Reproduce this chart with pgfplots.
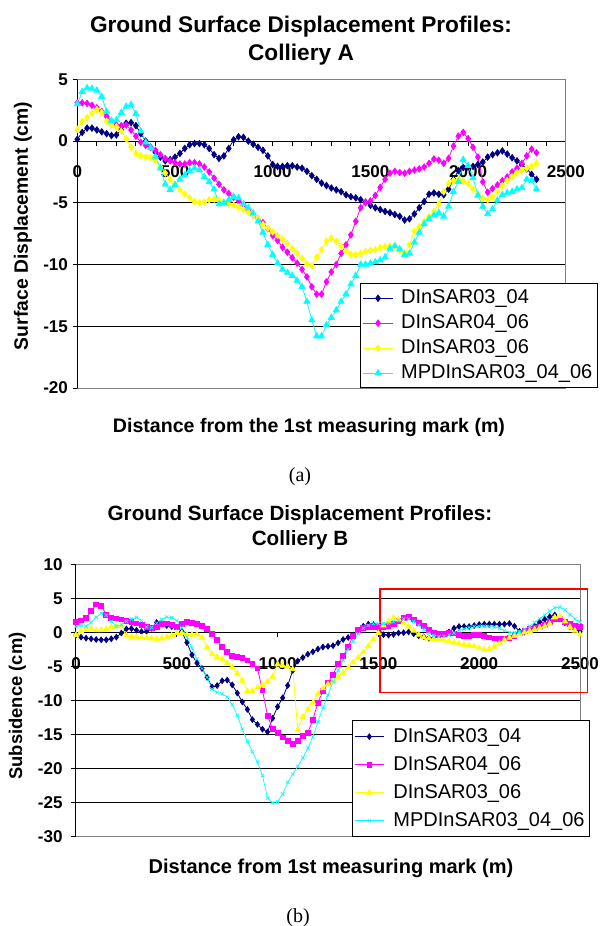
\documentclass[border=0pt]{standalone}
\usepackage{fontspec}
\setmainfont{Liberation Sans}
\newfontfamily\capfont{Liberation Serif}
\usepackage{pgfplots}
\usepackage{pgfplotstable}
\pgfplotsset{compat=1.18}

\definecolor{sNavy}{RGB}{0,0,128}
\definecolor{sMag}{RGB}{255,0,255}
\definecolor{sYel}{RGB}{255,255,0}
\definecolor{sCyan}{RGB}{0,255,255}
\definecolor{bord}{RGB}{128,128,128}

% Colliery A: distance (m) and displacement (cm)
\pgfplotstableread{
x a b c d
0 0.15 3.1 0.95 3.0
25 0.7 3.1 1.6 4.0
50 1.05 3.05 1.9 4.3
75 1.05 2.9 2.25 4.25
100 0.9 2.7 2.55 4.1
125 0.75 2.4 2.3 3.6
150 0.6 2.0 1.6 2.4
175 0.45 1.6 1.3 1.65
200 0.5 1.3 1.15 1.7
225 0.9 1.25 0.8 2.3
250 1.45 1.3 0.2 2.8
275 1.5 0.9 -0.5 2.95
300 1.25 0.4 -1.0 2.2
325 0.6 -0.1 -1.2 0.8
350 0 -0.35 -1.3 -0.1
375 -0.5 -0.5 -1.35 -0.55
400 -0.9 -0.75 -1.55 -1.25
425 -1.3 -1.1 -2.1 -2.2
450 -1.6 -1.4 -2.6 -3.5
475 -1.5 -1.6 -3.1 -3.95
500 -1.3 -1.75 -3.5 -3.55
525 -1.0 -1.85 -3.95 -3.1
550 -0.6 -1.85 -4.3 -2.75
575 -0.3 -1.75 -4.6 -2.4
600 -0.2 -1.75 -4.9 -2.2
625 -0.2 -1.85 -5.0 -2.35
650 -0.3 -2.1 -4.95 -2.9
675 -0.6 -2.5 -4.75 -3.3
700 -1.1 -3.0 -4.7 -3.9
725 -1.4 -3.5 -4.8 -5.1
750 -1.2 -3.95 -5.0 -5.0
775 -0.6 -4.25 -5.1 -4.75
800 0.1 -4.55 -5.2 -4.5
825 0.35 -4.85 -5.35 -4.6
850 0.3 -5.15 -5.55 -5.1
875 0 -5.6 -5.75 -5.4
900 -0.25 -6.0 -6.0 -5.85
925 -0.5 -6.3 -6.3 -6.5
950 -0.75 -6.6 -6.75 -7.4
975 -1.2 -7.1 -7.05 -8.4
1000 -1.9 -7.65 -7.35 -9.2
1025 -2.05 -8.05 -7.65 -9.9
1050 -2.05 -8.6 -7.95 -10.4
1075 -2.0 -9.0 -8.3 -10.65
1100 -2.0 -9.45 -8.7 -10.9
1125 -2.1 -9.9 -9.1 -11.3
1150 -2.2 -10.4 -9.5 -11.8
1175 -2.45 -11.0 -9.95 -13.0
1200 -2.8 -11.8 -10.1 -14.5
1225 -3.1 -12.4 -9.4 -15.8
1250 -3.4 -12.4 -8.8 -15.8
1275 -3.6 -11.4 -8.1 -14.9
1300 -3.8 -10.6 -7.85 -14.3
1325 -3.95 -10.0 -8.1 -13.7
1350 -4.1 -9.1 -8.5 -13.0
1375 -4.35 -8.4 -8.9 -12.4
1400 -4.5 -7.6 -9.2 -11.6
1425 -4.6 -6.5 -9.2 -10.9
1450 -4.75 -5.4 -9.1 -10.0
1475 -4.95 -5.0 -8.95 -10.0
1500 -5.2 -4.85 -8.85 -9.9
1525 -5.4 -4.4 -8.8 -9.8
1550 -5.55 -3.75 -8.65 -9.65
1575 -5.7 -3.1 -8.55 -9.4
1600 -5.8 -2.6 -8.5 -8.7
1625 -5.95 -2.45 -8.5 -8.5
1650 -6.1 -2.55 -8.9 -8.75
1675 -6.4 -2.6 -9.05 -9.2
1700 -6.3 -2.45 -8.4 -9.1
1725 -5.9 -2.35 -7.3 -8.2
1750 -5.4 -2.25 -6.95 -7.4
1775 -4.9 -2.1 -6.5 -6.7
1800 -4.3 -1.8 -6.1 -6.3
1825 -4.2 -1.45 -5.7 -6.0
1850 -4.3 -1.55 -5.1 -5.8
1875 -4.35 -1.8 -4.1 -6.1
1900 -3.9 -1.4 -3.45 -5.3
1925 -3.1 -0.4 -3.2 -4.1
1950 -2.4 0.4 -3.1 -3.3
1975 -2.15 0.7 -3.25 -1.5
2000 -2.1 0.2 -3.45 -2.0
2025 -2.05 -0.5 -3.9 -3.0
2050 -1.9 -1.3 -4.3 -4.4
2075 -1.7 -3.3 -4.65 -5.3
2100 -1.3 -4.15 -4.75 -5.9
2125 -1.1 -3.85 -4.55 -5.5
2150 -0.95 -3.55 -4.1 -4.8
2175 -0.8 -3.2 -3.6 -4.35
2200 -1.05 -2.9 -3.2 -4.2
2225 -1.35 -2.5 -2.9 -4.1
2250 -1.6 -2.2 -2.55 -3.9
2275 -1.9 -1.8 -2.35 -3.8
2300 -2.25 -1.2 -2.2 -3.1
2325 -2.7 -0.65 -2.05 -3.2
2350 -3.1 -0.95 -1.8 -3.9
}\tabA

% Colliery B: distance (m) and subsidence (cm)
\pgfplotstableread{
x a b c d
0 -0.4 1.55 -0.4 0.85
25 -0.7 1.75 0.15 1.0
50 -0.85 2.1 0.45 0.9
75 -0.95 3.1 0.55 1.45
100 -1.05 4.1 0.3 2.2
125 -1.1 3.9 0.3 2.8
150 -1.1 2.6 0.5 2.5
175 -0.95 2.15 0.8 1.6
200 -0.7 2.05 0.9 0.9
225 -0.1 1.9 0.9 1.1
250 0.5 1.7 -0.45 1.6
275 0.55 1.5 -0.65 1.95
300 0.3 1.3 -0.7 2.2
325 0.1 1.1 -0.75 1.7
350 0.15 0.85 -0.8 0.8
375 0.6 0.6 -0.9 0.7
400 1.45 0.8 -1.0 1.35
425 1.25 1.2 -0.9 1.9
450 1.0 1.3 -0.75 2.25
475 0.85 1.1 -0.45 2.15
500 0.75 0.85 -0.1 1.7
525 0.1 1.2 -0.1 0.7
550 -1.5 1.5 -0.3 -0.7
575 -3.3 1.4 -0.35 -2.3
600 -4.5 1.2 -0.3 -3.9
625 -5.3 0.9 -0.8 -5.3
650 -6.6 0.45 -2.2 -6.6
675 -8.0 -0.2 -3.2 -8.3
700 -7.8 -1.1 -3.6 -8.8
725 -7.1 -2.1 -3.95 -9.0
750 -7.0 -2.9 -4.5 -9.5
775 -7.7 -3.4 -5.1 -10.6
800 -8.9 -3.6 -6.0 -12.2
825 -10.2 -3.8 -7.1 -14.2
850 -11.3 -4.1 -8.6 -16.0
875 -12.8 -4.65 -8.6 -17.5
900 -13.5 -5.3 -8.1 -19.0
925 -14.2 -8.5 -7.7 -21.0
950 -14.6 -12.2 -7.2 -24.3
975 -12.6 -14.2 -6.5 -25.0
1000 -10.9 -14.7 -4.7 -24.8
1025 -9.6 -15.4 -4.9 -23.7
1050 -7.8 -15.9 -5.0 -22.0
1075 -5.6 -16.3 -5.4 -20.8
1100 -4.2 -15.9 -14.3 -19.7
1125 -3.7 -15.2 -12.4 -18.4
1150 -3.2 -14.7 -11.3 -17.0
1175 -2.85 -12.8 -10.3 -15.3
1200 -2.45 -10.3 -9.0 -13.1
1225 -2.15 -8.6 -8.2 -11.0
1250 -2.05 -7.4 -7.6 -9.2
1275 -1.95 -6.2 -7.2 -7.2
1300 -1.55 -4.6 -6.6 -5.6
1325 -1.05 -3.5 -5.9 -4.1
1350 -0.75 -2.1 -5.2 -2.5
1375 -0.4 -0.5 -4.4 -1.3
1400 0.2 0.35 -3.7 -0.2
1425 0.9 0.65 -2.9 0.6
1450 1.2 0.8 -2.0 1.05
1475 1.15 0.85 -1.0 1.3
1500 0.6 0.85 -0.1 1.3
1525 -0.35 0.85 1.0 1.3
1550 -0.4 0.9 1.6 1.3
1575 -0.3 1.2 2.15 1.55
1600 -0.1 1.7 1.9 1.75
1625 -0.05 2.15 1.4 2.0
1650 0.05 2.25 0.85 1.95
1675 -0.2 1.9 0.25 1.6
1700 -0.5 1.4 -0.35 1.05
1725 -0.65 0.9 -0.75 0.45
1750 -0.85 0.4 -0.9 -0.1
1775 -0.8 0.0 -0.95 -0.45
1800 -0.6 -0.2 -1.05 -0.6
1825 -0.35 -0.2 -1.15 -0.6
1850 0.05 -0.05 -1.3 -0.4
1875 0.6 -0.15 -1.5 -0.1
1900 0.85 -0.35 -1.65 0.3
1925 0.85 -0.55 -1.8 0.5
1950 0.85 -0.55 -1.9 0.7
1975 1.0 -0.4 -2.05 0.85
2000 1.15 -0.4 -2.3 0.9
2025 1.2 -0.55 -2.55 0.9
2050 1.2 -0.75 -2.45 0.85
2075 1.2 -0.9 -2.1 0.8
2100 1.2 -1.0 -1.6 0.6
2125 1.2 -1.0 -1.15 0.25
2150 1.3 -0.85 -0.8 0.0
2175 0.9 -0.55 -0.5 -0.05
2200 0.15 -0.15 -0.25 0.1
2225 0.05 0.2 0.0 0.45
2250 0.4 0.45 0.2 0.9
2275 0.9 0.65 0.4 1.45
2300 1.5 0.8 0.65 2.0
2325 1.9 1.15 0.9 2.55
2350 2.3 1.55 1.25 3.1
2375 2.55 1.9 2.2 3.6
2400 2.1 2.0 2.4 3.7
2425 1.4 1.5 1.6 3.3
2450 0.85 1.25 0.8 2.6
2475 0.45 1.0 0.25 1.95
2500 0.1 0.75 -0.3 1.5
}\tabB

\pgfplotsset{
  xlstyle/.style={
    scale only axis,
    xmin=0, xmax=2500,
    axis x line=middle, axis y line=left,
    axis line style={-, black, line width=0.75pt},
    hide obscured x ticks=false, hide obscured y ticks=false,
    tick align=outside,
    major tick length=3.5pt, minor tick length=3.5pt,
    tick style={black, line width=0.75pt},
    ymajorgrids, grid style={black, line width=0.75pt},
    xtick={0,500,...,2500},
    xticklabels={0,500,1000,1500,2000,2500},
    ticklabel style={font=\bfseries\fontsize{12.8}{14}\selectfont},
    legend cell align=left,
    legend image code/.code={\draw[mark repeat=2,mark phase=2,##1] plot coordinates {(0pt,0pt) (11pt,0pt) (22pt,0pt)};},
  },
}

\begin{document}
\begin{tikzpicture}
\useasboundingbox (0,0) rectangle (453pt,-694.5pt);

% ---------- Colliery A ----------
\node[font=\bfseries\fontsize{17}{21}\selectfont, align=center] at (225.75pt,-30.75pt)
  {Ground Surface Displacement Profiles:\\Colliery A};
\begin{axis}[xlstyle,
  at={(57.98pt,-291pt)}, anchor=south west,
  width=366.4pt, height=231.5pt,
  ymin=-20, ymax=5,
  ytick={-20,-15,...,5}, yticklabels={-20,-15,-10,-5,0,5},
  minor xtick={100,200,...,2400},
  xticklabel style={yshift=-11pt},
  legend style={at={(0.5787,0)}, anchor=south west, draw=black, fill=white,
    font=\fontsize{15}{17}\selectfont, inner sep=2pt, row sep=0.7pt,
    nodes={inner sep=1.5pt, text height=11.5pt, text depth=3.5pt},
    /tikz/every odd column/.append style={column sep=4.5pt}},
]
\addplot[color=sNavy, line width=0.6pt, mark=diamond*, mark size=2.4pt, mark options={fill=sNavy}] table[x=x,y=a] {\tabA};
\addplot[color=sMag, line width=0.6pt, mark=diamond*, mark size=2.4pt, mark options={fill=sMag}] table[x=x,y=b] {\tabA};
\addplot[color=sYel, line width=0.6pt, mark=diamond*, mark size=2.4pt, mark options={fill=sYel}] table[x=x,y=c] {\tabA};
\addplot[color=sCyan, line width=0.6pt, mark=triangle*, mark size=2.6pt, mark options={fill=sCyan}] table[x=x,y=d] {\tabA};
\draw[bord, line width=0.75pt] (rel axis cs:0,1) -- (rel axis cs:1,1) -- (rel axis cs:1,0) -- (rel axis cs:0,0);
\legend{DInSAR03\_04, DInSAR04\_06, DInSAR03\_06, MPDInSAR03\_04\_06}
\end{axis}
\node[font=\bfseries\fontsize{14.7}{17}\selectfont] at (231.75pt,-320.25pt)
  {Distance from the 1st measuring mark (m)};
\node[font=\bfseries\fontsize{14.5}{17}\selectfont, rotate=90] at (17.25pt,-169.5pt)
  {Surface Displacement (cm)};
\node[font=\capfont\fontsize{15}{17}\selectfont] at (225pt,-357.75pt) {(a)};

% ---------- Colliery B ----------
\node[font=\bfseries\fontsize{15.5}{18.75}\selectfont, align=center] at (225pt,-395.6pt)
  {Ground Surface Displacement Profiles:\\Colliery B};
\begin{axis}[xlstyle,
  at={(57pt,-627.7pt)}, anchor=south west,
  width=378pt, height=204.6pt,
  ymin=-30, ymax=10, clip=false,
  ytick={-30,-25,...,10}, yticklabels={-30,-25,-20,-15,-10,-5,0,5,10},
  xticklabel style={yshift=-12pt},
  yticklabel style={xshift=-3pt},
  legend style={at={(0.5476,0)}, anchor=south west, draw=black, fill=white,
    font=\fontsize{15}{17}\selectfont, inner sep=1.5pt, row sep=0pt,
    nodes={inner sep=2.25pt, text height=12.5pt, text depth=4pt},
    /tikz/every odd column/.append style={column sep=4.5pt}},
]
\addplot[color=sNavy, line width=0.6pt, mark=diamond*, mark size=2.1pt, mark options={fill=sNavy}] table[x=x,y=a] {\tabB};
\addplot[color=sMag, line width=0.6pt, mark=square*, mark size=1.8pt, mark options={fill=sMag}] table[x=x,y=b] {\tabB};
\addplot[color=sYel, line width=0.6pt, mark=triangle*, mark size=2.3pt, mark options={fill=sYel}] table[x=x,y=c] {\tabB};
\addplot[color=sCyan, line width=0.5pt, mark=x, mark size=1.8pt] table[x=x,y=d] {\tabB};
\draw[bord, line width=0.75pt] (rel axis cs:0,1) -- (rel axis cs:1,1) -- (rel axis cs:1,0) -- (rel axis cs:0,0);
\draw[red, line width=1pt] (axis cs:1508,6.35) rectangle (axis cs:2536,-8.86);
\legend{DInSAR03\_04, DInSAR04\_06, DInSAR03\_06, MPDInSAR03\_04\_06}
\end{axis}
\node[font=\bfseries\fontsize{15}{17}\selectfont] at (248.25pt,-651pt)
  {Distance from 1st measuring mark (m)};
\node[font=\bfseries\fontsize{13.8}{16}\selectfont, rotate=90] at (13.1pt,-529.5pt)
  {Subsidence (cm)};
\node[font=\capfont\fontsize{15}{17}\selectfont] at (223.5pt,-688.5pt) {(b)};
\end{tikzpicture}
\end{document}
